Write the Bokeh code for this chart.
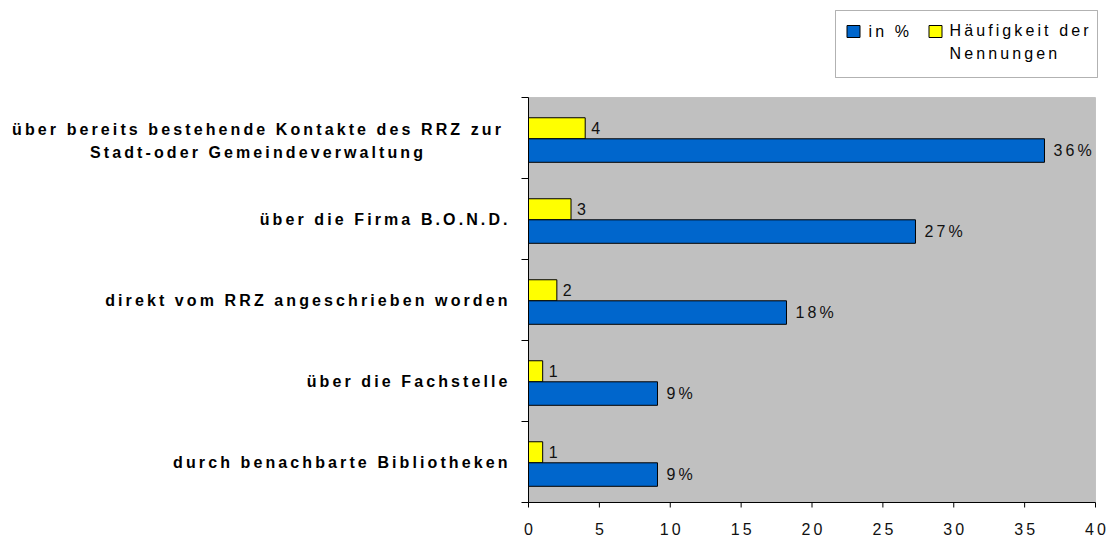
import math
from bokeh.plotting import figure
from bokeh.models import (Range1d, LabelSet, Label, ColumnDataSource, BoxAnnotation,
                          InlineStyleSheet)
from bokeh.core.properties import value
from bokeh.embed import file_html
from bokeh.resources import INLINE

# ---------------- data ----------------
categories = [
    "über bereits bestehende Kontakte des RRZ zur\nStadt-oder Gemeindeverwaltung",
    "über die Firma B.O.N.D.",
    "direkt vom RRZ angeschrieben worden",
    "über die Fachstelle",
    "durch benachbarte Bibliotheken",
]
pct = [36.4, 27.3, 18.2, 9.1, 9.1]          # "in %"
counts = [4, 3, 2, 1, 1]                     # "Häufigkeit der Nennungen"
series_names = ["in %", "Häufigkeit der\nNennungen"]
x_ticks = [0, 5, 10, 15, 20, 25, 30, 35, 40]

# ---------------- style ----------------
FONT = "Liberation Sans"
FS = "16px"
LS = 3.1                  # letter spacing (px)
BLUE = "#0066CC"
YELLOW = "#FFFF00"
GRAY = "#C0C0C0"
TXT = "#111111"

n = len(categories)
W, H = 1109, 542
# pixel layout of the plotting area (page coordinates)
AX_L, AX_R, AX_T, AX_B = 528, 1095, 97, 502
px_x = (AX_R - AX_L) / x_ticks[-1]
px_y = (AX_B - AX_T) / n

p = figure(width=W, height=H,
           x_range=Range1d(-AX_L / px_x, x_ticks[-1] + (W - AX_R) / px_x),
           y_range=Range1d(-(H - AX_B) / px_y, n + AX_T / px_y),
           output_backend="svg", toolbar_location=None,
           x_axis_location=None, y_axis_location=None, min_border=0,
           min_border_left=0, min_border_right=0, min_border_top=0, min_border_bottom=0)
p.stylesheets = [InlineStyleSheet(css=f":host {{ letter-spacing: {LS}px; }}")]

p.background_fill_color = "white"
p.border_fill_color = "white"
p.outline_line_color = None
p.grid.visible = False

# plot area (gray)
p.add_layout(BoxAnnotation(left=0, right=x_ticks[-1], bottom=0, top=n, level="underlay",
                           fill_color=GRAY, fill_alpha=1, line_color="#808080", line_width=1))

centers = [n - i - 0.5 for i in range(n)]
src = ColumnDataSource(dict(
    y_pct=[c - 0.155 for c in centers],
    y_cnt=[c + 0.12 for c in centers],
    pct=pct, cnt=counts,
    pct_lbl=[f"{round(v)}%" for v in pct],
    cnt_lbl=[str(c) for c in counts],
))

p.hbar(y="y_cnt", left=0, right="cnt", height=0.26, fill_color=YELLOW,
       line_color="black", line_width=1, source=src)
p.hbar(y="y_pct", left=0, right="pct", height=0.29, fill_color=BLUE,
       line_color="black", line_width=1, source=src)

p.add_layout(LabelSet(x="pct", y="y_pct", text="pct_lbl", x_offset=9, text_baseline="middle",
                      text_align="left", text_font=value(FONT), text_font_size=FS,
                      text_color=TXT, source=src))
p.add_layout(LabelSet(x="cnt", y="y_cnt", text="cnt_lbl", x_offset=6, text_baseline="middle",
                      text_align="left", text_font=value(FONT), text_font_size=FS,
                      text_color=TXT, source=src))

# ---------------- axes (lines, ticks, tick labels) ----------------
bounds = list(range(n + 1))
p.segment(x0=[0], y0=[0], x1=[0], y1=[n], line_color="black", line_width=1)
p.ray(x=[0] * len(bounds), y=bounds, length=7, length_units="screen", angle=math.pi,
      line_color="black", line_width=1)
p.segment(x0=[x_ticks[0]], y0=[0], x1=[x_ticks[-1]], y1=[0], line_color="black", line_width=1)
p.ray(x=x_ticks, y=[0] * len(x_ticks), length=5, length_units="screen", angle=-math.pi / 2,
      line_color="black", line_width=1)
tick_src = ColumnDataSource(dict(
    x=x_ticks, y=[-26.5 / px_y] * len(x_ticks), text=[str(t) for t in x_ticks],
    xo=[-(len(str(t)) - 1) * LS / 2 for t in x_ticks]))
p.add_layout(LabelSet(x="x", y="y", text="text", x_offset="xo", text_align="center",
                      text_baseline="middle", text_font=value(FONT), text_font_size=FS,
                      text_color=TXT, source=tick_src))

# ---------------- category labels ----------------
single = dict(x=[], y=[], text=[], xo=[])
multi = dict(x=[], y=[], text=[], xo=[])
LINE_GAP = 23.5
for c, lab in zip(centers, categories):
    lines = lab.split("\n")
    if len(lines) == 1:
        single["x"].append(0)
        single["y"].append(c)
        single["text"].append(lab)
        single["xo"].append(-21 - (len(lab) - 1) * LS)
    else:
        k = len(lines)
        for j, ln in enumerate(lines):
            off_px = ((k - 1) / 2 - j) * LINE_GAP - 2.75
            multi["x"].append(0)
            multi["y"].append(c + off_px / px_y)
            multi["text"].append(ln)
            multi["xo"].append(-272 - (len(ln) - 1) * LS / 2)

p.add_layout(LabelSet(x="x", y="y", text="text", x_offset="xo", text_align="right",
                      text_baseline="middle", text_font=value(FONT), text_font_size=FS,
                      text_font_style="bold", text_color="black",
                      source=ColumnDataSource(single)))
p.add_layout(LabelSet(x="x", y="y", text="text", x_offset="xo", text_align="center",
                      text_baseline="middle", text_font=value(FONT), text_font_size=FS,
                      text_font_style="bold", text_color="black",
                      source=ColumnDataSource(multi)))

# ---------------- legend (drawn by hand) ----------------
def sx(px):   # page x -> data x
    return (px - AX_L) / px_x

def sy(py):   # page y -> data y
    return (AX_B - py) / px_y

p.add_layout(BoxAnnotation(left=835, right=1097, bottom=H - 77, top=H - 10,
                           left_units="screen", right_units="screen",
                           top_units="screen", bottom_units="screen",
                           fill_color="white", fill_alpha=1, line_color="black",
                           line_width=1, level="underlay"))
p.rect(x=[sx(853), sx(935)], y=[sy(31), sy(31)], width=13, height=12,
       width_units="screen", height_units="screen",
       fill_color=[BLUE, YELLOW], line_color="black", line_width=1)
p.add_layout(Label(x=868, y=H - 31, x_units="screen", y_units="screen",
                   text=series_names[0], text_baseline="middle", text_align="left",
                   text_font=FONT, text_font_size=FS, text_color="black"))
p.add_layout(Label(x=949, y=H - 41.5, x_units="screen", y_units="screen",
                   text=series_names[1], text_baseline="middle", text_align="left",
                   text_font=FONT, text_font_size=FS, text_color="black",
                   text_line_height=1.31))

open("out.html", "w").write(file_html(p, INLINE))
